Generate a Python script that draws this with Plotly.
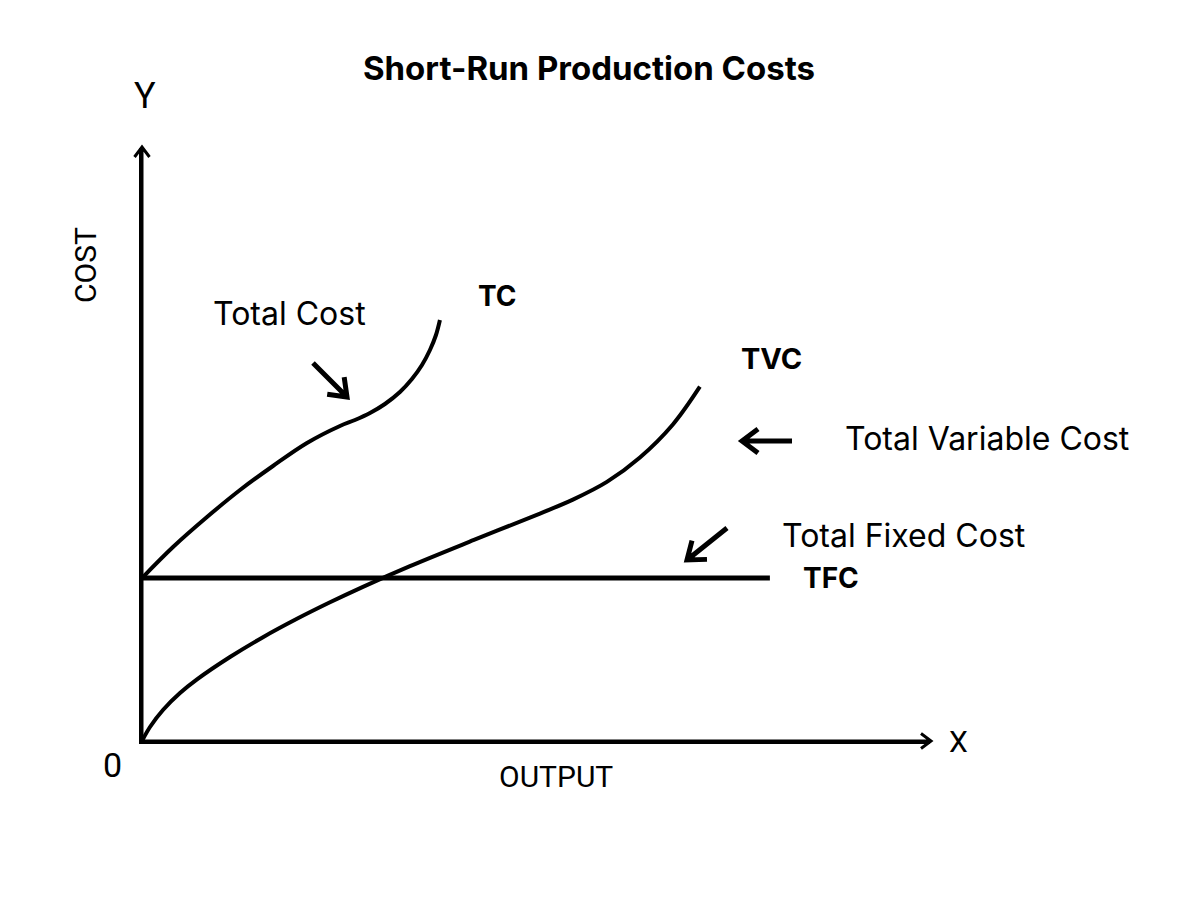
import math
import plotly.graph_objects as go

# ---------------- data (output units, cost units) ----------------
tc_output = [0, 0.494, 1.035, 1.561, 2.086, 2.627, 3.153, 3.392, 3.631, 3.869, 4.108, 4.299, 4.459, 4.586, 4.682, 4.745]
tc_cost = [3.0, 3.571, 4.123, 4.620, 5.062, 5.485, 5.798, 5.908, 6.037, 6.203, 6.424, 6.663, 6.921, 7.197, 7.473, 7.749]

tvc_output = [0, 0.127, 0.334, 0.605, 0.876, 1.401, 1.927, 2.468, 2.994, 3.519, 4.268, 5.287, 6.338, 6.863, 7.404, 7.930, 8.455, 8.885]
tvc_cost = [0, 0.258, 0.571, 0.883, 1.134, 1.546, 1.911, 2.249, 2.553, 2.838, 3.219, 3.701, 4.187, 4.443, 4.769, 5.218, 5.826, 6.521]

tfc_output = [0, 10]
tfc_cost = [3.0, 3.0]

x_max = 12.55
y_max = 10.915

# ---------------- layout geometry (pixels) ----------------
W, H = 1200, 900
L, R, T, B = 142, 930, 148, 741  # plot area edges in pixels


def P(px, py):
    """pixel -> paper coords"""
    return (px - L) / (R - L), (B - py) / (B - T)


def arrow_path(tail, tip, head_len, head_w):
    dx, dy = tip[0] - tail[0], tip[1] - tail[1]
    n = math.hypot(dx, dy)
    ux, uy = dx / n, dy / n
    bx, by = tip[0] - ux * head_len, tip[1] - uy * head_len
    w1 = (bx - uy * head_w, by + ux * head_w)
    w2 = (bx + uy * head_w, by - ux * head_w)
    a, b = P(*tail), P(*tip)
    c1, c2 = P(*w1), P(*w2)
    return (f"M{a[0]},{a[1]} L{b[0]},{b[1]} "
            f"M{c1[0]},{c1[1]} L{b[0]},{b[1]} L{c2[0]},{c2[1]}")


fig = go.Figure()

fig.add_trace(go.Scatter(x=tfc_output, y=tfc_cost, mode="lines",
                         line=dict(color="black", width=5), name="TFC"))
fig.add_trace(go.Scatter(x=tvc_output, y=tvc_cost, mode="lines",
                         line=dict(color="black", width=4, shape="spline", smoothing=1.0), name="TVC"))
fig.add_trace(go.Scatter(x=tc_output, y=tc_cost, mode="lines",
                         line=dict(color="black", width=4, shape="spline", smoothing=1.0), name="TC"))

shapes = []
# axis arrowheads (drawn over the axis lines)
shapes.append(dict(type="path", xref="paper", yref="paper",
                   path=arrow_path((L, B), (L, T - 1), 10, 7.5),
                   line=dict(color="black", width=3)))
shapes.append(dict(type="path", xref="paper", yref="paper",
                   path=arrow_path((L, B), (R + 1, B), 10, 7.5),
                   line=dict(color="black", width=3)))
# pointer arrows
for tail, tip in [((313, 363), (347, 397)), ((792, 441), (742, 441)), ((727, 528), (687, 560))]:
    shapes.append(dict(type="path", xref="paper", yref="paper",
                       path=arrow_path(tail, tip, 16, 12),
                       line=dict(color="black", width=5)))

annotations = []


def text(s, px, py, size, family, bold=False, angle=0):
    x, y = P(px, py)
    annotations.append(dict(text=f"<b>{s}</b>" if bold else s, x=x, y=y, xref="paper", yref="paper",
                            showarrow=False, xanchor="center", yanchor="middle", textangle=angle,
                            font=dict(size=size, family=family, color="black")))


axis_font = "Roboto, Liberation Sans, sans-serif"
label_font = "Inter, Open Sans, sans-serif"

text("Y", 145, 96, 36, axis_font)
text("X", 958, 741, 30, axis_font)
text("0", 112, 765, 34, axis_font)
text("OUTPUT", 556, 776, 30, axis_font)
text("COST", 85, 265, 30, axis_font, angle=-90)

text("Total Cost", 289, 313, 32, label_font)
text("Total Variable Cost", 987, 438, 32, label_font)
text("Total Fixed Cost", 903, 535, 32, label_font)

text("TC", 497, 296, 28, label_font, bold=True)
text("TVC", 771, 358, 29, label_font, bold=True)
text("TFC", 831, 578, 28, label_font, bold=True)

fig.update_layout(
    width=W, height=H,
    margin=dict(l=L, r=W - R, t=T, b=H - B, pad=0),
    paper_bgcolor="white", plot_bgcolor="white",
    showlegend=False,
    title=dict(text="<b>Short-Run Production Costs</b>", x=589 / W, y=1 - 68 / H,
               xref="container", yref="container", xanchor="center", yanchor="middle",
               font=dict(size=33, family=label_font, color="black")),
    xaxis=dict(range=[0, x_max], showgrid=False, zeroline=False, showticklabels=False, ticks="",
               showline=True, linecolor="black", linewidth=3, fixedrange=True),
    yaxis=dict(range=[0, y_max], showgrid=False, zeroline=False, showticklabels=False, ticks="",
               showline=True, linecolor="black", linewidth=3, fixedrange=True),
    shapes=shapes,
    annotations=annotations,
)

fig.write_html("out.html")
